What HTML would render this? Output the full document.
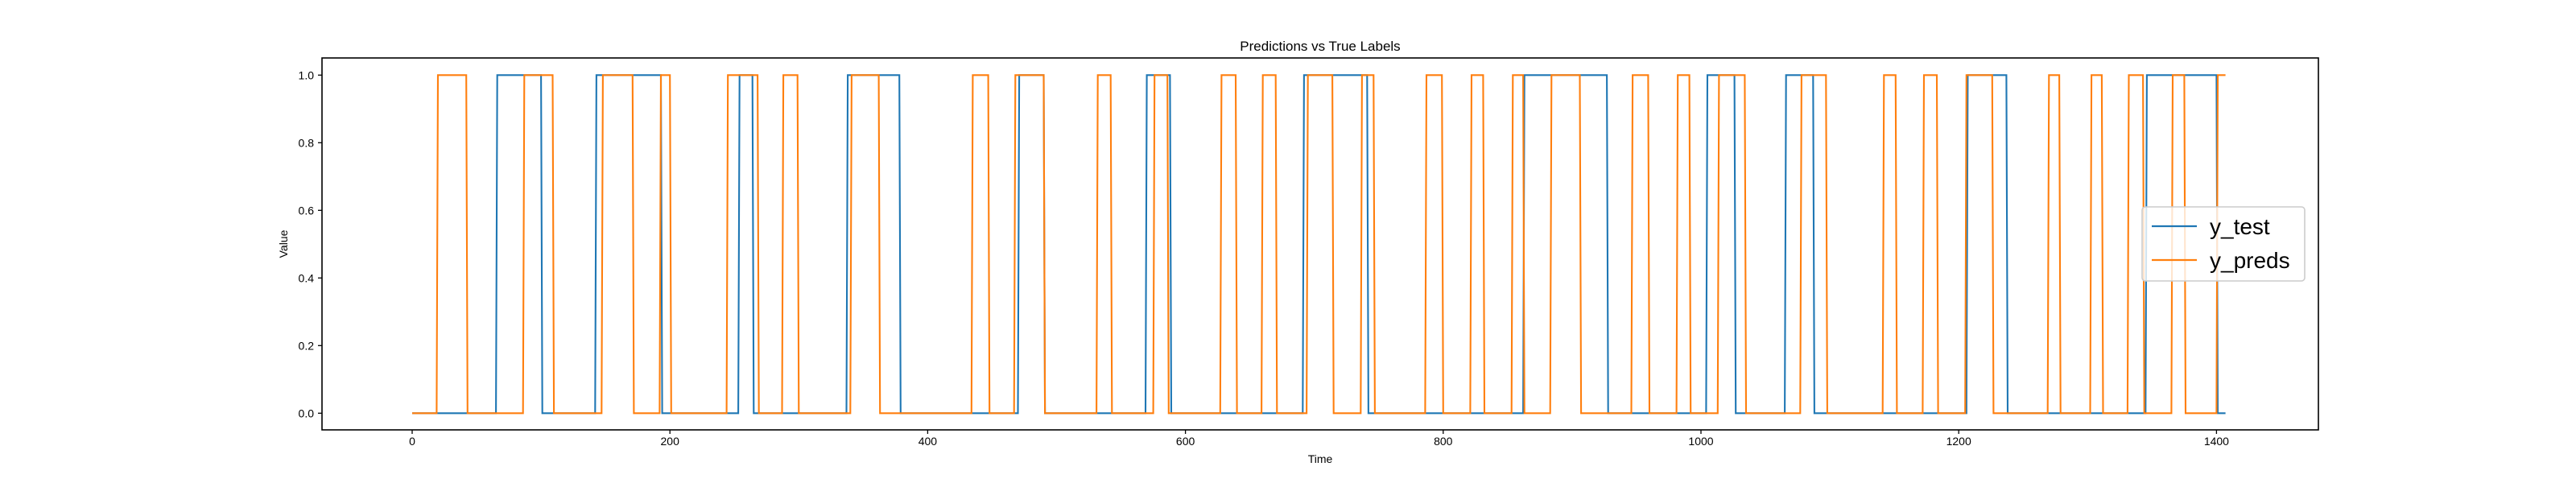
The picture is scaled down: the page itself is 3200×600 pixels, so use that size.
<!DOCTYPE html>
<html><head><meta charset="utf-8"><style>
html,body{margin:0;padding:0;background:#fff}
svg{display:block;font-family:"Liberation Sans","DejaVu Sans",sans-serif}
</style></head><body>
<svg id="chart" width="3200" height="600" viewBox="0 0 3200 600">
<rect x="0" y="0" width="3200" height="600" fill="#fff"/>
<text x="1640" y="63" font-size="17" text-anchor="middle" fill="#000">Predictions vs True Labels</text>
<g id="series"></g>
<g id="axes"></g>
<rect x="400" y="72" width="2480" height="462" fill="none" stroke="#000" stroke-width="1.6"/>
<text x="1640" y="575" font-size="14" text-anchor="middle">Time</text>
<text x="357" y="303" font-size="14" text-anchor="middle" transform="rotate(-90 357 303)">Value</text>
<g>
<rect x="2661" y="257" width="202" height="92" rx="4" fill="#fff" fill-opacity="0.8" stroke="#ccc" stroke-width="1.6"/>
<line x1="2673" y1="281" x2="2729" y2="281" stroke="#1f77b4" stroke-width="2.2"/>
<text x="2745" y="291" font-size="28">y_test</text>
<line x1="2673" y1="323" x2="2729" y2="323" stroke="#ff7f0e" stroke-width="2.2"/>
<text x="2745" y="333" font-size="28">y_preds</text>
</g>
</svg>
<script>
const nSamples = 1407;
const testRise = [66,101,143,194,254,265,338,379,471,491,570,589,692,742,863,928,1005,1027,1066,1088,1207,1238,1346,1401];
const predRise = [20,43,87,110,148,172,193,201,245,269,288,300,341,363,435,448,468,491,532,543,576,587,628,640,660,671,695,715,737,747,787,800,822,832,854,863,884,907,947,960,982,992,1014,1035,1078,1098,1142,1152,1173,1184,1206,1227,1270,1279,1303,1312,1332,1344,1366,1376,1401];
const yTicks = [0.0,0.2,0.4,0.6,0.8,1.0];
const yTickLabels = ["0.0","0.2","0.4","0.6","0.8","1.0"];
const xTicks = [0,200,400,600,800,1000,1200,1400];
const xTickLabels = ["0","200","400","600","800","1000","1200","1400"];

const NS = "http://www.w3.org/2000/svg";
const X0 = 512, XS = 1.601;
function xScale(t){ return X0 + t*XS; }
function yScale(v){ return 513.3 - v*420; }

function buildPoints(trans){
  const pts = [[0,0]];
  let level = 0;
  for (const idx of trans){
    if (idx >= nSamples){ break; }
    pts.push([idx-1, level]);
    level = 1-level;
    pts.push([idx, level]);
  }
  pts.push([nSamples, level]);
  return pts.map(p => xScale(p[0]).toFixed(1)+","+yScale(p[1]).toFixed(1)).join(" ");
}
const series = document.getElementById('series');
const pl1 = document.createElementNS(NS,'polyline');
pl1.setAttribute('points', buildPoints(testRise));
pl1.setAttribute('fill','none');
pl1.setAttribute('stroke','#1f77b4');
pl1.setAttribute('stroke-width','2.1');


series.appendChild(pl1);
const pl2 = document.createElementNS(NS,'polyline');
pl2.setAttribute('points', buildPoints(predRise));
pl2.setAttribute('fill','none');
pl2.setAttribute('stroke','#ff7f0e');
pl2.setAttribute('stroke-width','2.1');


series.appendChild(pl2);

const axes = document.getElementById('axes');
yTicks.forEach((v,i)=>{
  const y = yScale(v);
  const tk = document.createElementNS(NS,'line');
  tk.setAttribute('x1',400); tk.setAttribute('x2',395);
  tk.setAttribute('y1',y); tk.setAttribute('y2',y);
  tk.setAttribute('stroke','#000'); tk.setAttribute('stroke-width','1.3');
  
  
  axes.appendChild(tk);
  const tx = document.createElementNS(NS,'text');
  tx.setAttribute('x',390); tx.setAttribute('y',y+5);
  tx.setAttribute('font-size','14'); tx.setAttribute('text-anchor','end');
  tx.textContent = yTickLabels[i];
  
  
  axes.appendChild(tx);
});
xTicks.forEach((v,i)=>{
  const x = xScale(v);
  const tk = document.createElementNS(NS,'line');
  tk.setAttribute('x1',x); tk.setAttribute('x2',x);
  tk.setAttribute('y1',534); tk.setAttribute('y2',539);
  tk.setAttribute('stroke','#000'); tk.setAttribute('stroke-width','1.3');
  
  
  axes.appendChild(tk);
  const tx = document.createElementNS(NS,'text');
  tx.setAttribute('x',x); tx.setAttribute('y',553);
  tx.setAttribute('font-size','14'); tx.setAttribute('text-anchor','middle');
  tx.textContent = xTickLabels[i];
  
  
  axes.appendChild(tx);
});
</script>
</body></html>
